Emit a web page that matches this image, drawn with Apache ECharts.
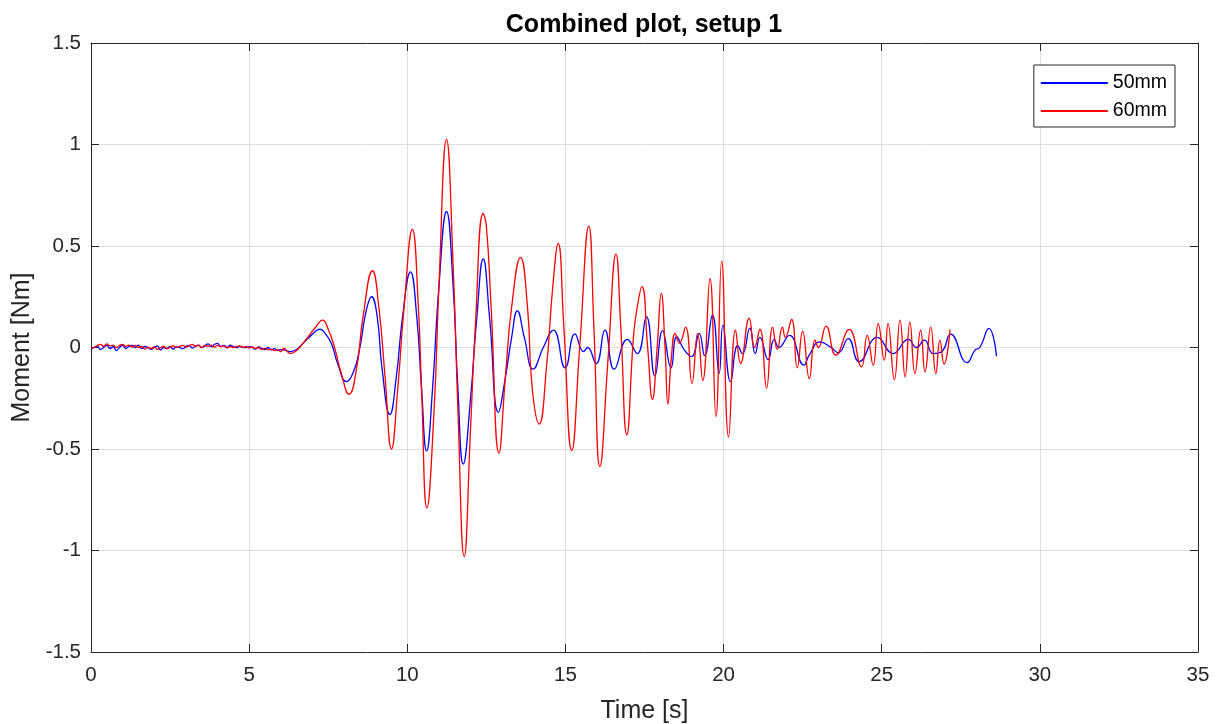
<!DOCTYPE html>
<html>
<head>
<meta charset="utf-8">
<script src="https://cdn.jsdelivr.net/npm/echarts@6/dist/echarts.min.js"></script>
<style>
html,body{margin:0;padding:0;background:#fff;}
#chart{width:1217px;height:724px;}
</style>
</head>
<body>
<div id="chart"></div>
<script>
// ---- Data ----
const seriesNames = ['50mm', '60mm'];
const xTicks = [0, 5, 10, 15, 20, 25, 30, 35];
const yTicks = [-1.5, -1, -0.5, 0, 0.5, 1, 1.5];

// Quiet start: sampled every 0.1 s from t = 0 to 6.0 s
const quietStep = 0.1;
const quiet50 = [-0.01, 0.0, 0.005, -0.01, 0.0, 0.01, -0.005, 0.005, -0.015, 0.0, 0.01, -0.005, 0.005, 0.01, 0.0, 0.012, -0.005, 0.005, 0.0, -0.01, 0.0, 0.008, -0.012, 0.0, -0.005, 0.005, -0.008, 0.003, 0.0, -0.006, 0.004, 0.01, -0.002, 0.006, 0.012, 0.0, 0.008, 0.018, 0.004, 0.015, 0.02, 0.005, 0.01, 0.0, 0.012, 0.005, 0.0, 0.006, 0.002, 0.0, 0.004, 0.0, -0.008, 0.003, -0.005, -0.01, 0.0, -0.012, -0.006, -0.015, -0.01];
const quiet60 = [-0.005, 0.0, 0.01, 0.015, 0.005, 0.018, 0.008, 0.012, 0.0, 0.01, 0.015, 0.005, 0.012, 0.002, 0.01, 0.0, 0.006, -0.008, 0.0, -0.005, 0.004, -0.01, 0.0, 0.005, -0.006, 0.002, 0.008, 0.0, 0.006, 0.01, 0.002, 0.008, 0.015, 0.005, 0.012, 0.0, 0.01, 0.006, 0.012, 0.002, 0.01, 0.004, 0.008, -0.002, 0.006, 0.0, 0.004, 0.008, 0.0, 0.005, -0.002, 0.003, -0.006, 0.0, -0.01, -0.004, -0.012, -0.008, -0.015, -0.01, -0.02];

// Oscillation part, 50mm
const time50 = [6.1, 6.3, 6.5, 6.7, 6.9, 7.1, 7.24, 7.4, 7.6, 7.8, 8.08, 8.3, 8.5, 8.7, 8.87, 9.05, 9.2, 9.45, 9.65, 9.85, 10.1, 10.3, 10.45, 10.61, 10.8, 11.0, 11.24, 11.45, 11.6, 11.77, 12.0, 12.2, 12.4, 12.6, 12.88, 13.1, 13.3, 13.48, 13.7, 13.98, 14.3, 14.62, 14.99, 15.3, 15.57, 15.7, 15.97, 16.25, 16.54, 16.96, 17.27, 17.56, 17.83, 18.07, 18.34, 18.52, 18.75, 18.99, 19.23, 19.4, 19.65, 19.86, 19.98, 20.22, 20.45, 20.6, 20.83, 21.0, 21.15, 21.41, 21.6, 21.75, 22.08, 22.54, 22.7, 23.05, 23.4, 23.63, 23.94, 24.29, 24.86, 25.36, 25.84, 26.1, 26.35, 26.63, 26.9, 27.18, 27.7, 27.95, 28.1, 28.39, 28.63];
const moment50 = [-0.012, -0.02, -0.01, 0.02, 0.05, 0.08, 0.09, 0.07, 0.02, -0.08, -0.168, -0.12, 0.0, 0.18, 0.25, 0.15, -0.1, -0.33, -0.15, 0.15, 0.373, 0.15, -0.2, -0.51, -0.2, 0.3, 0.67, 0.3, -0.2, -0.574, -0.25, 0.15, 0.436, 0.15, -0.32, -0.15, 0.05, 0.18, 0.05, -0.107, 0.0, 0.086, -0.1, 0.067, -0.02, 0.0, -0.08, 0.086, -0.107, 0.04, -0.03, 0.152, -0.14, 0.083, -0.1, 0.053, -0.01, -0.045, 0.07, -0.04, 0.16, -0.127, 0.11, -0.168, 0.01, -0.03, 0.095, -0.03, 0.05, -0.06, 0.04, 0.0, 0.06, -0.087, -0.04, 0.028, 0.0, -0.026, 0.044, -0.07, 0.05, -0.03, 0.04, 0.0, 0.036, -0.03, -0.02, 0.066, -0.074, -0.013, 0.0, 0.094, -0.043];

// Oscillation part, 60mm
const time60 = [6.1, 6.3, 6.5, 6.7, 6.9, 7.1, 7.32, 7.5, 7.7, 7.9, 8.16, 8.4, 8.6, 8.9, 9.1, 9.3, 9.5, 9.7, 9.9, 10.16, 10.35, 10.45, 10.62, 10.85, 11.0, 11.24, 11.45, 11.6, 11.8, 12.0, 12.15, 12.4, 12.5, 12.65, 12.9, 13.1, 13.3, 13.58, 13.8, 13.95, 14.17, 14.4, 14.6, 14.77, 14.95, 15.2, 15.45, 15.74, 15.9, 16.09, 16.35, 16.6, 16.75, 16.94, 17.15, 17.25, 17.42, 17.6, 17.75, 17.9, 18.03, 18.15, 18.24, 18.35, 18.47, 18.6, 18.8, 19.0, 19.18, 19.34, 19.57, 19.76, 19.94, 20.16, 20.38, 20.54, 20.81, 20.98, 21.15, 21.36, 21.55, 21.7, 21.86, 21.95, 22.15, 22.33, 22.5, 22.71, 22.89, 23.0, 23.24, 23.55, 23.97, 24.36, 24.54, 24.73, 24.89, 25.08, 25.2, 25.4, 25.58, 25.74, 25.89, 26.05, 26.23, 26.37, 26.55, 26.71, 26.84, 26.97, 27.16];
const moment60 = [-0.005, -0.03, -0.015, 0.02, 0.06, 0.1, 0.135, 0.09, 0.0, -0.12, -0.23, -0.1, 0.15, 0.378, 0.2, -0.15, -0.5, -0.2, 0.2, 0.582, 0.2, -0.2, -0.79, -0.3, 0.3, 1.025, 0.4, -0.3, -1.03, -0.4, 0.1, 0.66, 0.6, 0.2, -0.52, -0.15, 0.2, 0.444, 0.2, -0.2, -0.377, -0.1, 0.3, 0.513, 0.1, -0.508, 0.0, 0.598, 0.1, -0.587, -0.05, 0.46, 0.1, -0.43, 0.05, 0.18, 0.3, 0.0, -0.255, 0.0, 0.267, 0.0, -0.278, -0.05, 0.07, 0.02, 0.1, -0.176, 0.07, -0.163, 0.34, -0.34, 0.426, -0.442, 0.086, -0.078, 0.144, 0.0, 0.09, -0.2, 0.1, -0.01, 0.1, 0.05, 0.138, -0.1, 0.08, -0.153, 0.036, 0.0, 0.105, -0.038, 0.089, -0.095, 0.06, -0.087, 0.118, -0.062, 0.118, -0.16, 0.135, -0.145, 0.126, -0.128, 0.085, -0.12, 0.1, -0.128, 0.036, -0.082, 0.089];

function buildSeries(quiet, times, values) {
  const pts = quiet.map((v, i) => [+(i * quietStep).toFixed(2), v]);
  times.forEach((t, i) => pts.push([t, values[i]]));
  return pts;
}
const data50 = buildSeries(quiet50, time50, moment50);
const data60 = buildSeries(quiet60, time60, moment60);

// ---- Chart ----
const FONT = 'Liberation Sans, Arial, Helvetica, sans-serif';
const AX = '#262626';
const GRID = '#dedede';
const chart = echarts.init(document.getElementById('chart'), null, {renderer: 'canvas'});

const baseX = {
  type: 'value', min: xTicks[0], max: xTicks[xTicks.length - 1], interval: 5,
  axisLine: {show: true, onZero: false, lineStyle: {color: AX, width: 1}},
  axisTick: {show: true, inside: true, length: 8, lineStyle: {color: AX}},
};
const baseY = {
  type: 'value', min: yTicks[0], max: yTicks[yTicks.length - 1], interval: 0.5,
  axisLine: {show: true, onZero: false, lineStyle: {color: AX, width: 1}},
  axisTick: {show: true, inside: true, length: 8, lineStyle: {color: AX}},
};

chart.setOption({
  animation: false,
  backgroundColor: '#ffffff',
  title: {
    text: 'Combined plot, setup 1',
    left: 639, top: 8, textAlign: 'center',
    textStyle: {fontFamily: FONT, fontSize: 25, fontWeight: 'bold', color: '#000'}
  },
  legend: {
    orient: 'vertical', right: 42, top: 65,
    data: seriesNames.map(n => ({name: n, icon: 'rect'})),
    itemWidth: 67, itemHeight: 2, itemGap: 8,
    padding: [8, 8, 6, 7],
    borderColor: AX, borderWidth: 1, backgroundColor: '#fff',
    textStyle: {fontFamily: FONT, fontSize: 19.5, color: '#000', lineHeight: 20}
  },
  grid: {left: 91, right: 19, top: 43, bottom: 72, containLabel: false, outerBoundsMode: 'none'},
  xAxis: [
    Object.assign({}, baseX, {
      position: 'bottom',
      name: 'Time [s]', nameLocation: 'middle', nameGap: 47,
      nameTextStyle: {fontFamily: FONT, fontSize: 25, color: AX},
      axisLabel: {fontFamily: FONT, fontSize: 20.5, color: AX, margin: 13},
      splitLine: {show: true, lineStyle: {color: GRID, width: 1}}
    }),
    Object.assign({}, baseX, {
      position: 'top', axisLabel: {show: false}, splitLine: {show: false}
    })
  ],
  yAxis: [
    Object.assign({}, baseY, {
      position: 'left',
      name: 'Moment [Nm]', nameLocation: 'middle', nameGap: 48, nameRotate: 90,
      nameTextStyle: {fontFamily: FONT, fontSize: 25, color: AX},
      axisLabel: {fontFamily: FONT, fontSize: 20.5, color: AX, margin: 10, padding: [5, 0, 0, 0]},
      splitLine: {show: true, lineStyle: {color: GRID, width: 1}}
    }),
    Object.assign({}, baseY, {
      position: 'right', axisLabel: {show: false}, splitLine: {show: false}
    })
  ],
  series: [
    {
      name: seriesNames[0], type: 'line', xAxisIndex: 0, yAxisIndex: 0,
      data: data50, symbol: 'none', smooth: 0.5,
      lineStyle: {color: '#0000ff', width: 1.3}, itemStyle: {color: '#0000ff'}, z: 3
    },
    {
      name: seriesNames[1], type: 'line', xAxisIndex: 0, yAxisIndex: 0,
      data: data60, symbol: 'none', smooth: 0.5,
      lineStyle: {color: '#ff0000', width: 1.3}, itemStyle: {color: '#ff0000'}, z: 4
    }
  ]
});
</script>
</body>
</html>
